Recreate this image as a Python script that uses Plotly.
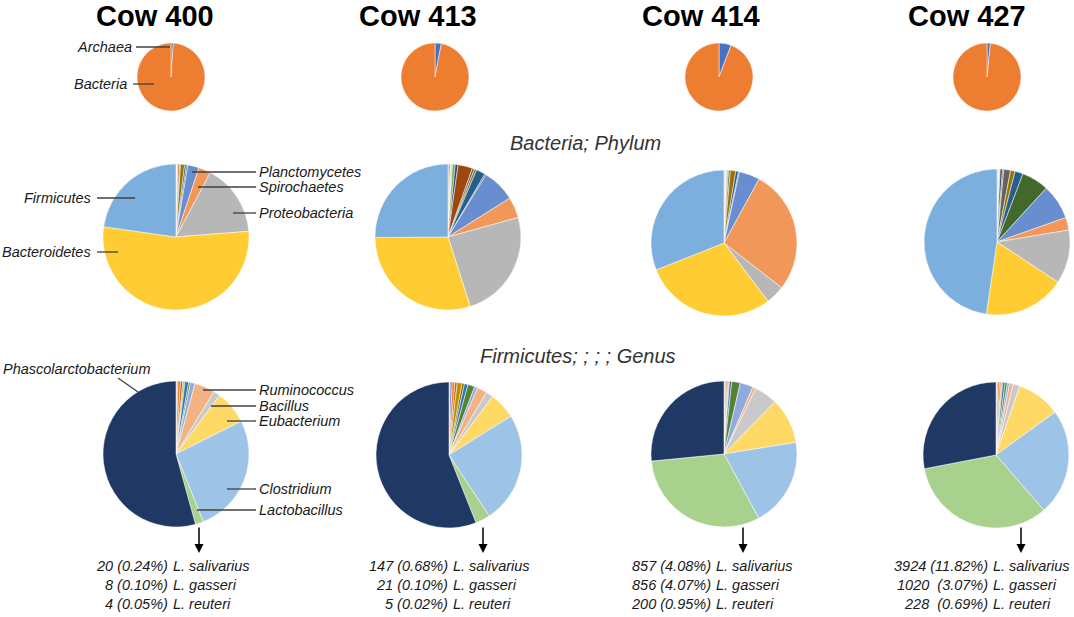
import plotly.graph_objects as go

W, H = 1074, 617

cows = ['Cow 400', 'Cow 413', 'Cow 414', 'Cow 427']

# Domain level (clockwise from 12 o'clock)
domains = ['Archaea', 'Bacteria']
domain_colors = ['#4472C4', '#ED7D31']
domain_400 = [1.1, 98.9]
domain_413 = [3.0, 97.0]
domain_414 = [5.8, 94.2]
domain_427 = [1.6, 98.4]

# Bacteria; Phylum (clockwise from 12 o'clock)
phyla = ['Other phylum %d' % i for i in range(1, 13)] + [
    'Planctomycetes', 'Spirochaetes', 'Proteobacteria', 'Bacteroidetes', 'Firmicutes']
phylum_colors = ['#4472C4', '#ED7D31', '#A5A5A5', '#FFC000', '#5B9BD5', '#70AD47',
                 '#264478', '#9E480E', '#636363', '#997300', '#255E91', '#43682B',
                 '#698ED0', '#F1975A', '#B7B7B7', '#FFCD33', '#7CAFDD']
phylum_400 = [0.05, 0.05, 0.1, 0.05, 0.05, 0.1, 0.1, 0.3, 0.2, 0.9, 0.4, 0.3,
              2.5, 2.7, 16.0, 53.6, 22.8]
phylum_413 = [0.2, 0.3, 0.2, 0.1, 0.2, 0.6, 0.6, 3.2, 0.5, 0.5, 2.0, 0.3,
              7.3, 4.6, 24.3, 29.7, 25.0]
phylum_414 = [0.1, 0.1, 0.2, 0.1, 0.1, 0.1, 0.1, 0.2, 0.4, 1.2, 0.6, 0.2,
              4.6, 27.5, 4.2, 29.3, 31.0]
phylum_427 = [0.1, 0.1, 0.2, 0.1, 0.1, 0.1, 0.5, 0.3, 1.5, 1.0, 1.8, 6.0,
              7.8, 2.8, 11.9, 18.1, 47.7]

# Firmicutes; Genus (clockwise from 12 o'clock)
genera = ['Other genus %d' % i for i in range(1, 10)] + [
    'Ruminococcus', 'Bacillus', 'Eubacterium', 'Clostridium', 'Lactobacillus',
    'Phascolarctobacterium']
genus_colors = ['#D0CECE', '#4472C4', '#ED7D31', '#C55A11', '#BF9000', '#7F6000',
                '#2E75B6', '#548235', '#8FAADC', '#F4B183', '#C9C9C9', '#FFD966',
                '#9DC3E6', '#A9D18E', '#203864']
genus_400 = [0.2, 0.2, 0.6, 0.5, 0.3, 0.2, 0.8, 0.4, 1.0, 4.5, 1.5, 7.4, 26.3, 1.8, 54.3]
genus_413 = [0.3, 0.4, 0.6, 0.5, 1.1, 0.5, 0.8, 1.5, 0.7, 2.2, 1.6, 5.9, 24.6, 3.25, 56.0]
genus_414 = [0.2, 0.2, 0.3, 0.2, 0.2, 0.1, 0.5, 1.9, 2.9, 0.7, 5.1, 10.2, 19.7, 31.4, 26.6]
genus_427 = [0.2, 0.2, 0.4, 0.3, 0.2, 0.2, 0.5, 0.5, 0.5, 0.8, 1.5, 9.7, 23.6, 33.3, 28.0]

# Lactobacillus species counts shown under each cow
species = ['L. salivarius', 'L. gasseri', 'L. reuteri']
counts_400 = ['20 (0.24%)', '8 (0.10%)', '4 (0.05%)']
counts_413 = ['147 (0.68%)', '21 (0.10%)', '5 (0.02%)']
counts_414 = ['857 (4.08%)', '856 (4.07%)', '200 (0.95%)']
counts_427 = ['3924 (11.82%)', '1020&nbsp; (3.07%)', '228&nbsp; (0.69%)']

domain_vals = [domain_400, domain_413, domain_414, domain_427]
phylum_vals = [phylum_400, phylum_413, phylum_414, phylum_427]
genus_vals = [genus_400, genus_413, genus_414, genus_427]
count_text = [counts_400, counts_413, counts_414, counts_427]

# pie centres / radii in pixels
top_c = [(171, 77), (435, 77), (719, 77), (987, 77)]
mid_c = [(176, 237), (448, 237), (724, 243), (997, 242)]
bot_c = [(176, 454), (449, 455), (724, 454), (996, 455)]
title_x = [155, 418, 701, 967]
split_x = [172, 452, 715, 992]
arrow_x = [199, 483, 743, 1021]

FONT = 'Liberation Sans, Arial, sans-serif'


def px(x):
    return x / W


def py(y):
    return 1 - y / H


def dom(c, r):
    cx, cy = c
    return dict(x=[px(cx - r), px(cx + r)], y=[py(cy + r), py(cy - r)])


fig = go.Figure()

for i, cow in enumerate(cows):
    for labels, vals, cols, c, r in [
        (domains, domain_vals[i], domain_colors, top_c[i], 34),
        (phyla, phylum_vals[i], phylum_colors, mid_c[i], 73),
        (genera, genus_vals[i], genus_colors, bot_c[i], 73),
    ]:
        fig.add_trace(go.Pie(
            labels=labels, values=vals, sort=False, direction='clockwise', rotation=0,
            marker=dict(colors=cols, line=dict(color='white', width=0.5)),
            textinfo='none', hovertemplate='%{label}: %{percent}<extra>' + cow + '</extra>',
            domain=dom(c, r), showlegend=False,
        ))

annotations = []
shapes = []


def text(x, y, s, size=14.5, anchor='left', italic=True, bold=False, color='#1a1a1a'):
    if bold:
        s = '<b>' + s + '</b>'
    if italic:
        s = '<i>' + s + '</i>'
    annotations.append(dict(x=px(x), y=py(y), xref='paper', yref='paper', text=s,
                            showarrow=False, xanchor=anchor, yanchor='middle',
                            borderpad=0,
                            font=dict(family=FONT, size=size, color=color)))


def line(x0, y0, x1, y1):
    shapes.append(dict(type='line', xref='paper', yref='paper', x0=px(x0), y0=py(y0),
                       x1=px(x1), y1=py(y1), line=dict(color='#404040', width=1.3)))


for i, cow in enumerate(cows):
    text(title_x[i], 16, cow, size=29, anchor='center', italic=False, bold=True, color='black')
    for j in range(3):
        yy = 566 + j * 19
        text(split_x[i] - 3, yy, count_text[i][j], anchor='right')
        text(split_x[i], yy, species[j], anchor='left')
    annotations.append(dict(x=px(arrow_x[i]), y=py(553), xref='paper', yref='paper',
                            text='', showarrow=True, ax=0, ay=-27, arrowhead=2,
                            arrowsize=1.2, arrowwidth=1.5, arrowcolor='black'))

text(585, 143, 'Bacteria; Phylum', size=20, anchor='center', color='#333333')
text(578, 356, 'Firmicutes; ; ; ; Genus', size=20, anchor='center', color='#333333')

# labels for Cow 400
text(133, 47, 'Archaea', anchor='right')
line(136, 47, 170, 47)
text(128, 84, 'Bacteria', anchor='right')
line(133, 84, 154, 84)

text(258, 172, 'Planctomycetes')
line(192, 172, 256, 172)
text(258, 187, 'Spirochaetes')
line(198, 187, 256, 187)
text(258, 213, 'Proteobacteria')
line(233, 213, 256, 213)
text(92, 198, 'Firmicutes', anchor='right')
line(97, 198, 135, 198)
text(92, 252, 'Bacteroidetes', anchor='right')
line(97, 252, 118, 252)

text(2, 369, 'Phascolarctobacterium')
line(118, 378, 138, 392)
text(258, 390, 'Ruminococcus')
line(203, 390, 256, 390)
text(258, 406, 'Bacillus')
line(211, 406, 256, 406)
text(258, 421, 'Eubacterium')
line(227, 421, 256, 421)
text(258, 489, 'Clostridium')
line(227, 489, 256, 489)
text(258, 510, 'Lactobacillus')
line(197, 510, 256, 510)

fig.update_layout(
    width=W, height=H, margin=dict(l=0, r=0, t=0, b=0),
    paper_bgcolor='white', plot_bgcolor='white',
    annotations=annotations, shapes=shapes,
)

# drop the browser's default 8px body margin so the figure fills the window
fig.write_html("out.html", config={'displayModeBar': False},
               post_script="document.body.style.margin='0px';")
